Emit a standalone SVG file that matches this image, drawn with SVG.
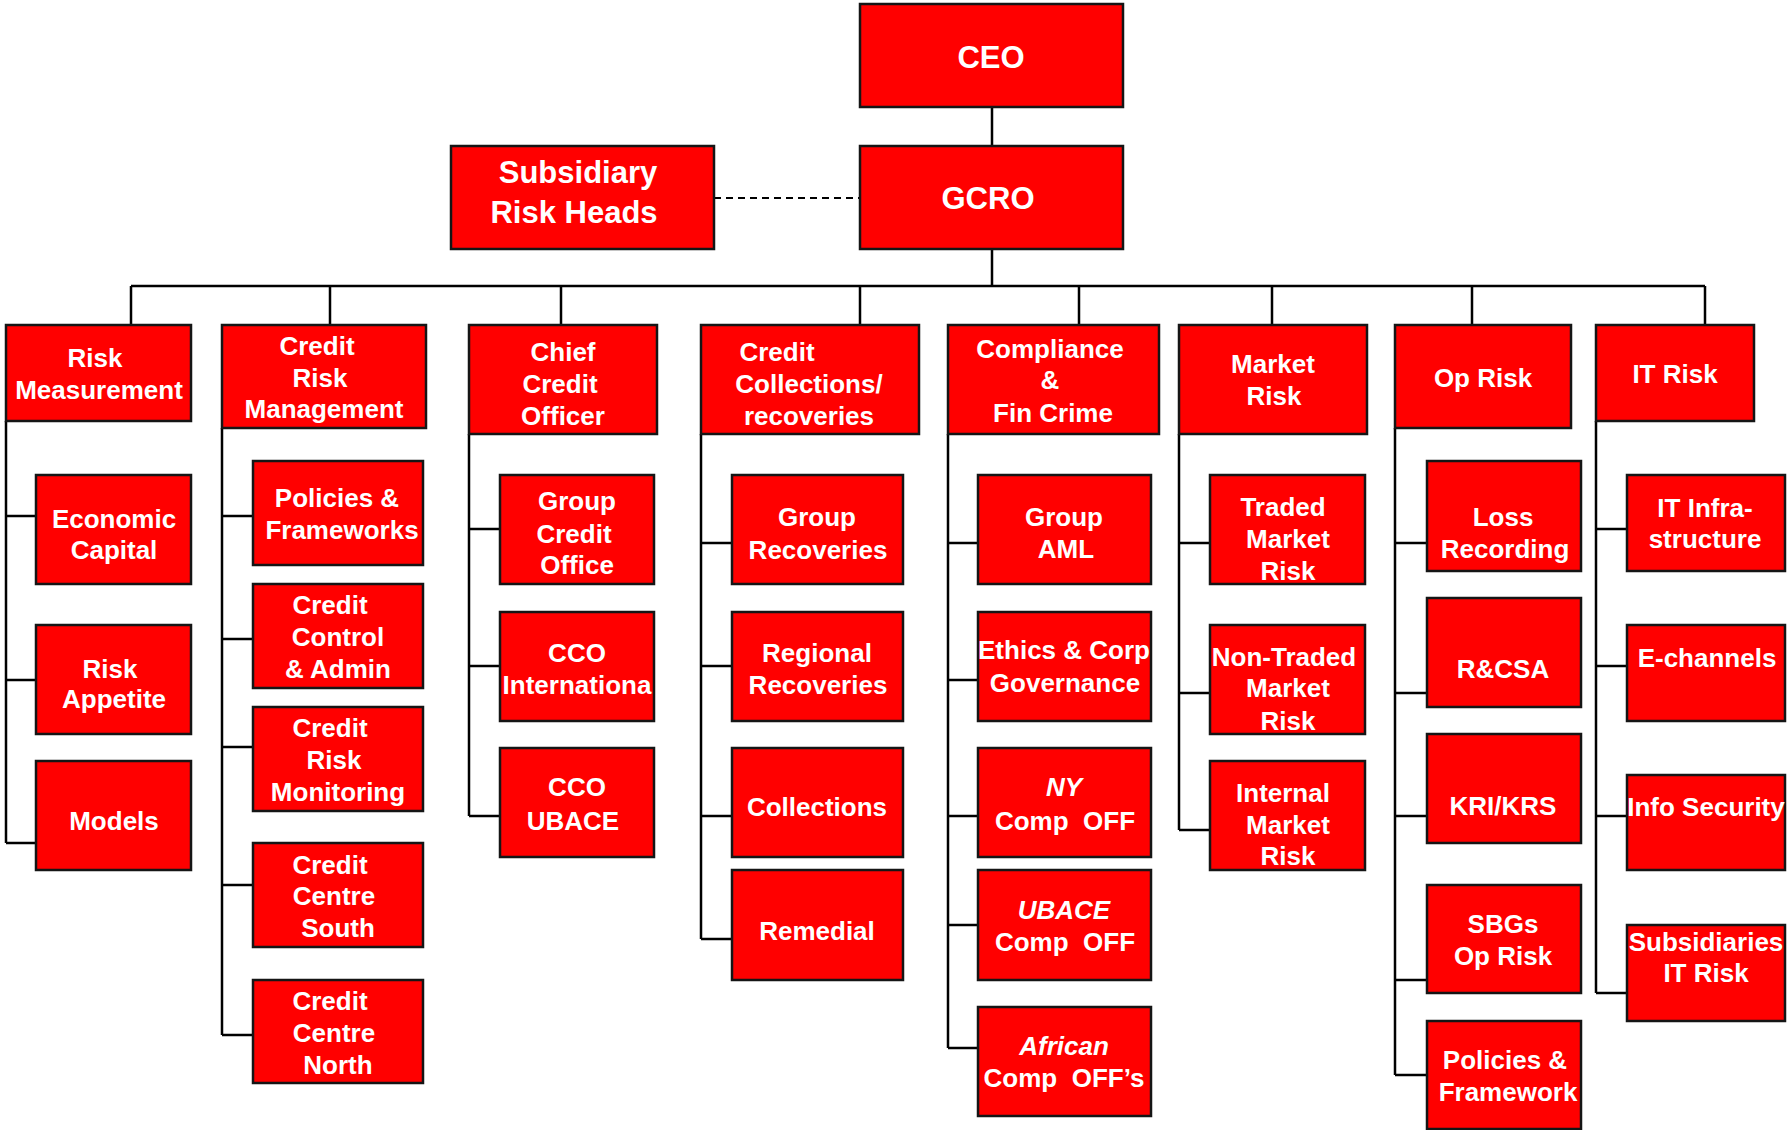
<svg xmlns="http://www.w3.org/2000/svg" width="1787" height="1130" viewBox="0 0 1787 1130">
<style>
.box{fill:#FF0000;stroke:#151515;stroke-width:2.5}
.t{font-family:"Liberation Sans",Arial,sans-serif;font-weight:bold;fill:#fff;text-anchor:middle;font-size:26px;white-space:pre}
.big{font-size:31px}
.it{font-style:italic}
.ln{stroke:#000;stroke-width:2.5;fill:none}
.dash{stroke:#000;stroke-width:2;stroke-dasharray:7 5;fill:none}
</style>
<rect width="1787" height="1130" fill="#fff"/>
<g id="connectors">
<path class="ln" d="M992,107V146 M992,249V286 M131,286H1705 M131,286V325 M330,286V325 M561,286V325 M860,286V325 M1079,286V325 M1272,286V325 M1472,286V325 M1705,286V325"/>
<path class="dash" d="M714,198H860"/>
<path class="ln" d="M6,421V843 M6,516H36 M6,680H36 M6,843H36"/>
<path class="ln" d="M222,428V1035 M222,516H253 M222,639H253 M222,747H253 M222,885H253 M222,1035H253"/>
<path class="ln" d="M469,434V816 M469,529H500 M469,666H500 M469,816H500"/>
<path class="ln" d="M701,434V939 M701,543H732 M701,666H732 M701,816H732 M701,939H732"/>
<path class="ln" d="M948,434V1048 M948,543H978 M948,680H978 M948,816H978 M948,925H978 M948,1048H978"/>
<path class="ln" d="M1179,434V830 M1179,543H1210 M1179,693H1210 M1179,830H1210"/>
<path class="ln" d="M1395,428V1075 M1395,543H1427 M1395,693H1427 M1395,816H1427 M1395,980H1427 M1395,1075H1427"/>
<path class="ln" d="M1596,421V993 M1596,529H1627 M1596,666H1627 M1596,816H1627 M1596,993H1627"/>
</g>
<g id="ceo"><rect class="box" x="860" y="4" width="263" height="103"/><text class="t big" x="991" y="68">CEO</text></g>
<g id="gcro"><rect class="box" x="860" y="146" width="263" height="103"/><text class="t big" x="988" y="209">GCRO</text></g>
<g id="subsidiary-risk-heads"><rect class="box" x="451" y="146" width="263" height="103"/><text class="t big" x="578" y="183">Subsidiary</text><text class="t big" x="574" y="223">Risk Heads</text></g>

<g id="risk-measurement"><rect class="box" x="6" y="325" width="185" height="96"/><text class="t" x="95" y="367">Risk</text><text class="t" x="99" y="399">Measurement</text></g>
<g id="credit-risk-management"><rect class="box" x="222" y="325" width="204" height="103"/><text class="t" x="317" y="355">Credit</text><text class="t" x="320" y="387">Risk</text><text class="t" x="324" y="418">Management</text></g>
<g id="chief-credit-officer"><rect class="box" x="469" y="325" width="188" height="109"/><text class="t" x="563" y="361">Chief</text><text class="t" x="560" y="393">Credit</text><text class="t" x="563" y="425">Officer</text></g>
<g id="credit-collections"><rect class="box" x="701" y="325" width="218" height="109"/><text class="t" x="777" y="361">Credit</text><text class="t" x="809" y="393">Collections/</text><text class="t" x="809" y="425">recoveries</text></g>
<g id="compliance"><rect class="box" x="948" y="325" width="211" height="109"/><text class="t" x="1050" y="358">Compliance</text><text class="t" x="1050" y="389">&amp;</text><text class="t" x="1053" y="422">Fin Crime</text></g>
<g id="market-risk"><rect class="box" x="1179" y="325" width="188" height="109"/><text class="t" x="1273" y="373">Market</text><text class="t" x="1274" y="405">Risk</text></g>
<g id="op-risk"><rect class="box" x="1395" y="325" width="176" height="103"/><text class="t" x="1483" y="387">Op Risk</text></g>
<g id="it-risk"><rect class="box" x="1596" y="325" width="158" height="96"/><text class="t" x="1675" y="383">IT Risk</text></g>

<g id="economic-capital"><rect class="box" x="36" y="475" width="155" height="109"/><text class="t" x="114" y="528">Economic</text><text class="t" x="114" y="559">Capital</text></g>
<g id="risk-appetite"><rect class="box" x="36" y="625" width="155" height="109"/><text class="t" x="110" y="678">Risk</text><text class="t" x="114" y="708">Appetite</text></g>
<g id="models"><rect class="box" x="36" y="761" width="155" height="109"/><text class="t" x="114" y="830">Models</text></g>

<g id="policies-frameworks"><rect class="box" x="253" y="461" width="170" height="104"/><text class="t" x="337" y="507">Policies &amp;</text><text class="t" x="342" y="539">Frameworks</text></g>
<g id="credit-control-admin"><rect class="box" x="253" y="584" width="170" height="104"/><text class="t" x="330" y="614">Credit</text><text class="t" x="338" y="646">Control</text><text class="t" x="338" y="678">&amp; Admin</text></g>
<g id="credit-risk-monitoring"><rect class="box" x="253" y="707" width="170" height="104"/><text class="t" x="330" y="737">Credit</text><text class="t" x="334" y="769">Risk</text><text class="t" x="338" y="801">Monitoring</text></g>
<g id="credit-centre-south"><rect class="box" x="253" y="843" width="170" height="104"/><text class="t" x="330" y="874">Credit</text><text class="t" x="334" y="905">Centre</text><text class="t" x="338" y="937">South</text></g>
<g id="credit-centre-north"><rect class="box" x="253" y="980" width="170" height="103"/><text class="t" x="330" y="1010">Credit</text><text class="t" x="334" y="1042">Centre</text><text class="t" x="338" y="1074">North</text></g>

<g id="group-credit-office"><rect class="box" x="500" y="475" width="154" height="109"/><text class="t" x="577" y="510">Group</text><text class="t" x="574" y="543">Credit</text><text class="t" x="577" y="574">Office</text></g>
<g id="cco-international"><rect class="box" x="500" y="612" width="154" height="109"/><text class="t" x="577" y="662">CCO</text><text class="t" x="577" y="694">Internationa</text></g>
<g id="cco-ubace"><rect class="box" x="500" y="748" width="154" height="109"/><text class="t" x="577" y="796">CCO</text><text class="t" x="573" y="830">UBACE</text></g>

<g id="group-recoveries"><rect class="box" x="732" y="475" width="171" height="109"/><text class="t" x="817" y="526">Group</text><text class="t" x="818" y="559">Recoveries</text></g>
<g id="regional-recoveries"><rect class="box" x="732" y="612" width="171" height="109"/><text class="t" x="817" y="662">Regional</text><text class="t" x="818" y="694">Recoveries</text></g>
<g id="collections"><rect class="box" x="732" y="748" width="171" height="109"/><text class="t" x="817" y="816">Collections</text></g>
<g id="remedial"><rect class="box" x="732" y="870" width="171" height="110"/><text class="t" x="817" y="940">Remedial</text></g>

<g id="group-aml"><rect class="box" x="978" y="475" width="173" height="109"/><text class="t" x="1064" y="526">Group</text><text class="t" x="1066" y="558">AML</text></g>
<g id="ethics-corp-governance"><rect class="box" x="978" y="612" width="173" height="109"/><text class="t" x="1064" y="659">Ethics &amp; Corp</text><text class="t" x="1065" y="692">Governance</text></g>
<g id="ny-comp-off"><rect class="box" x="978" y="748" width="173" height="109"/><text class="t it" x="1064" y="796">NY</text><text class="t" x="1065" y="830">Comp  OFF</text></g>
<g id="ubace-comp-off"><rect class="box" x="978" y="870" width="173" height="110"/><text class="t it" x="1064" y="919">UBACE</text><text class="t" x="1065" y="951">Comp  OFF</text></g>
<g id="african-comp-offs"><rect class="box" x="978" y="1007" width="173" height="109"/><text class="t it" x="1064" y="1055">African</text><text class="t" x="1064" y="1087">Comp  OFF’s</text></g>

<g id="traded-market-risk"><rect class="box" x="1210" y="475" width="155" height="109"/><text class="t" x="1283" y="516">Traded</text><text class="t" x="1288" y="548">Market</text><text class="t" x="1288" y="580">Risk</text></g>
<g id="non-traded-market-risk"><rect class="box" x="1210" y="625" width="155" height="109"/><text class="t" x="1284" y="666">Non-Traded</text><text class="t" x="1288" y="697">Market</text><text class="t" x="1288" y="730">Risk</text></g>
<g id="internal-market-risk"><rect class="box" x="1210" y="761" width="155" height="109"/><text class="t" x="1283" y="802">Internal</text><text class="t" x="1288" y="834">Market</text><text class="t" x="1288" y="865">Risk</text></g>

<g id="loss-recording"><rect class="box" x="1427" y="461" width="154" height="110"/><text class="t" x="1503" y="526">Loss</text><text class="t" x="1505" y="558">Recording</text></g>
<g id="rcsa"><rect class="box" x="1427" y="598" width="154" height="109"/><text class="t" x="1503" y="678">R&amp;CSA</text></g>
<g id="kri-krs"><rect class="box" x="1427" y="734" width="154" height="109"/><text class="t" x="1503" y="815">KRI/KRS</text></g>
<g id="sbgs-op-risk"><rect class="box" x="1427" y="885" width="154" height="108"/><text class="t" x="1503" y="933">SBGs</text><text class="t" x="1503" y="965">Op Risk</text></g>
<g id="policies-framework"><rect class="box" x="1427" y="1021" width="154" height="108"/><text class="t" x="1505" y="1069">Policies &amp;</text><text class="t" x="1508" y="1101">Framework</text></g>

<g id="it-infrastructure"><rect class="box" x="1627" y="475" width="158" height="96"/><text class="t" x="1705" y="517">IT Infra-</text><text class="t" x="1705" y="548">structure</text></g>
<g id="e-channels"><rect class="box" x="1627" y="625" width="158" height="96"/><text class="t" x="1707" y="667">E-channels</text></g>
<g id="info-security"><rect class="box" x="1627" y="775" width="158" height="95"/><text class="t" x="1706" y="816">Info Security</text></g>
<g id="subsidiaries-it-risk"><rect class="box" x="1627" y="925" width="158" height="96"/><text class="t" x="1706" y="951">Subsidiaries</text><text class="t" x="1706" y="982">IT Risk</text></g>
</svg>
